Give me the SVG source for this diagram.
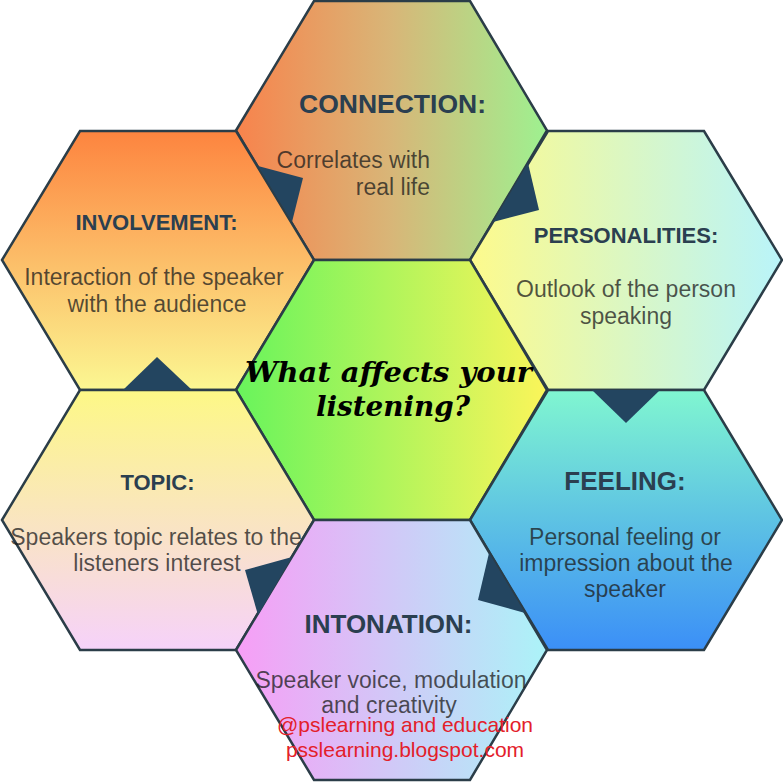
<svg xmlns="http://www.w3.org/2000/svg" width="783" height="783" viewBox="0 0 783 783">
<defs>
<linearGradient id="gConn" x1="0" y1="0" x2="1" y2="0"><stop offset="0" stop-color="#f8834c"/><stop offset="0.5" stop-color="#d8b678"/><stop offset="1" stop-color="#9ef190"/></linearGradient>
<linearGradient id="gInv" x1="0" y1="0" x2="0" y2="1"><stop offset="0" stop-color="#fd843f"/><stop offset="1" stop-color="#fbf792"/></linearGradient>
<linearGradient id="gPers" x1="0" y1="0" x2="1" y2="0"><stop offset="0" stop-color="#fdfa8c"/><stop offset="1" stop-color="#b9f4fa"/></linearGradient>
<linearGradient id="gCenter" x1="0" y1="0" x2="1" y2="0"><stop offset="0" stop-color="#68f45c"/><stop offset="1" stop-color="#fbf55a"/></linearGradient>
<linearGradient id="gTopic" x1="0" y1="0" x2="0" y2="1"><stop offset="0" stop-color="#fdf886"/><stop offset="1" stop-color="#f6d2fa"/></linearGradient>
<linearGradient id="gFeel" x1="0" y1="0" x2="0" y2="1"><stop offset="0" stop-color="#80f6d0"/><stop offset="1" stop-color="#3b8ff7"/></linearGradient>
<linearGradient id="gInto" x1="0" y1="0" x2="1" y2="0"><stop offset="0" stop-color="#f79ef6"/><stop offset="1" stop-color="#abf3f8"/></linearGradient>
</defs>
<style>
.hex{stroke:#2b3d48;stroke-width:2.5;stroke-linejoin:miter}
.ptr{fill:#234560}
.title{font-family:"Liberation Sans",Arial,sans-serif;font-weight:bold;fill:#2b3f50;text-anchor:middle}
.body{font-family:"Liberation Sans",Arial,sans-serif;font-size:23px;fill:#1c1c1c;fill-opacity:0.75;text-anchor:middle}
.center{font-family:"DejaVu Serif",serif;font-weight:bold;font-style:italic;font-size:28px;fill:#000;text-anchor:middle}
.wm{font-family:"Liberation Sans",Arial,sans-serif;font-size:21px;fill:#e3202a;text-anchor:middle}
</style>
<rect width="783" height="783" fill="#ffffff"/>
<g id="connection">
<polygon class="hex" fill="url(#gConn)" points="236,130.5 314,1 470,1 547,130.5 470,260 314,260"/>
<text class="title" x="392.5" y="113" font-size="26.5">CONNECTION:</text>
<text class="body" x="430" y="168" style="text-anchor:end">Correlates with</text>
<text class="body" x="430" y="195" style="text-anchor:end">real life</text>
</g>
<g id="involvement">
<polygon class="hex" fill="url(#gInv)" points="2,260 80,131 236,131 314,260 236,390 80,390"/>
<text class="title" x="156.5" y="230" font-size="22">INVOLVEMENT:</text>
<text class="body" x="154" y="285">Interaction of the speaker</text>
<text class="body" x="157" y="312">with the audience</text>
</g>
<g id="personalities">
<polygon class="hex" fill="url(#gPers)" points="470,260 548,131 704,131 782,260 704,390 548,390"/>
<text class="title" x="626" y="243" font-size="22">PERSONALITIES:</text>
<text class="body" x="626" y="297">Outlook of the person</text>
<text class="body" x="626" y="324">speaking</text>
</g>
<g id="center">
<polygon class="hex" fill="url(#gCenter)" points="236,390 314,260 470,260 547,390 470,520 314,520"/>
<text class="center" x="388.5" y="382" textLength="287" lengthAdjust="spacingAndGlyphs">What affects your</text>
<text class="center" x="393" y="416" textLength="154" lengthAdjust="spacingAndGlyphs">listening?</text>
</g>
<g id="topic">
<polygon class="hex" fill="url(#gTopic)" points="2,520 80,390 236,390 314,520 236,650 80,650"/>
<text class="title" x="157.5" y="490" font-size="22">TOPIC:</text>
<text class="body" x="156" y="545">Speakers topic relates to the</text>
<text class="body" x="157" y="571">listeners interest</text>
</g>
<g id="feeling">
<polygon class="hex" fill="url(#gFeel)" points="470,520 548,390 704,390 782,520 704,650 548,650"/>
<text class="title" x="625" y="490" font-size="26">FEELING:</text>
<text class="body" x="625" y="545">Personal feeling or</text>
<text class="body" x="626" y="571">impression about the</text>
<text class="body" x="625" y="597">speaker</text>
</g>
<g id="intonation">
<polygon class="hex" fill="url(#gInto)" points="236,650 314,520 470,520 547,650 470,780 314,780"/>
<text class="title" x="388.5" y="633" font-size="26">INTONATION:</text>
<text class="body" x="391" y="688">Speaker voice, modulation</text>
<text class="body" x="389" y="713">and creativity</text>
</g>
<g id="connectors">
<polygon class="ptr" points="258,166 303,178 292,222"/>
<polygon class="ptr" points="528,163 539,210 493,222"/>
<polygon class="ptr" points="592,390 660,390 626,423"/>
<polygon class="ptr" points="489,553 478,600 525,613"/>
<polygon class="ptr" points="292,557 245,570 258,615"/>
<polygon class="ptr" points="123,390 157,357 192,390"/>
</g>
<g id="watermark">
<text class="wm" x="405" y="732">@pslearning and education</text>
<text class="wm" x="405" y="757">psslearning.blogspot.com</text>
</g>
</svg>
